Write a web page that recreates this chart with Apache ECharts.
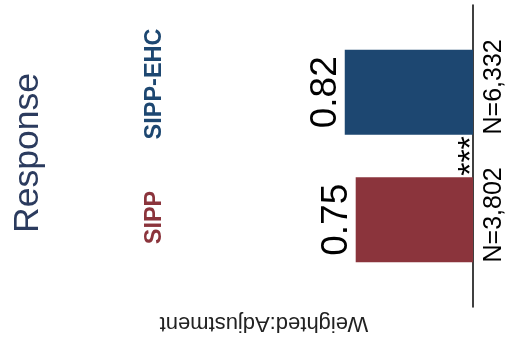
<!DOCTYPE html>
<html>
<head>
<meta charset="utf-8">
<style>
  html, body { margin: 0; padding: 0; background: #fff; }
  #chart { width: 511px; height: 337px; }
</style>
<script src="https://cdn.jsdelivr.net/npm/echarts@6/dist/echarts.min.js"></script>
</head>
<body>
<div id="chart"></div>
<script>
// Response rates by survey instrument
const groupLabel = ['Weighted:Adjustment'];
const seriesNames = ['SIPP', 'SIPP-EHC'];
const responseRates = [0.75, 0.82];
const sampleSizes = ['N=3,802', 'N=6,332'];
const significance = '***';
const chartTitle = 'Response';

const FONT = 'Liberation Sans, Arial, sans-serif';
const colors = ['#8b343c', '#1d4771'];

const chart = echarts.init(document.getElementById('chart'), null, { renderer: 'canvas' });

// SIPP-EHC is stacked above SIPP along the vertical category band
const drawOrder = [1, 0];
const series = drawOrder.map(i => ({
  name: seriesNames[i],
  type: 'bar',
  data: [responseRates[i]],
  barWidth: 85,
  barGap: '50%',
  itemStyle: { color: colors[i] },
  label: {
    show: true,
    position: 'left',
    distance: 0,
    rotate: 90,
    align: 'center',
    verticalAlign: 'bottom',
    fontFamily: FONT,
    fontSize: 37,
    color: '#000',
    formatter: p => p.value.toFixed(2)
  }
}));

const vText = (text, x, y, font, fill, align, rot) => ({
  type: 'text',
  x: x, y: y,
  rotation: rot === undefined ? Math.PI / 2 : rot,
  style: {
    text: text,
    font: font,
    fill: fill,
    textAlign: align || 'center',
    textVerticalAlign: 'middle'
  }
});

chart.setOption({
  animation: false,
  backgroundColor: '#fff',
  grid: { left: 82, right: 38, top: 5, bottom: 30, containLabel: false },
  xAxis: {
    type: 'value',
    inverse: true,
    min: 0,
    max: 2.5,
    axisLine: { show: false },
    axisTick: { show: false },
    axisLabel: { show: false },
    splitLine: { show: false }
  },
  yAxis: {
    type: 'category',
    position: 'right',
    data: groupLabel,
    axisLine: { show: true, onZero: false, lineStyle: { color: '#000', width: 1.5 } },
    axisTick: { show: false },
    axisLabel: { show: false }
  },
  series: series,
  graphic: [
    vText(chartTitle, 28, 153, '35.5px ' + FONT, '#2b3b5e'),
    vText(seriesNames[1], 155, 84, 'bold 23.5px ' + FONT, colors[1]),
    vText(seriesNames[0], 155, 217.5, 'bold 23.5px ' + FONT, colors[0]),
    vText(sampleSizes[1], 494, 134.5, '25px ' + FONT, '#000', 'left'),
    vText(sampleSizes[0], 494, 262.5, '25px ' + FONT, '#000', 'left'),
    vText(significance, 472, 156, '34px ' + FONT, '#000'),
    vText(groupLabel[0], 264, 323, '22px ' + FONT, '#222', 'center', Math.PI)
  ]
});
</script>
</body>
</html>
